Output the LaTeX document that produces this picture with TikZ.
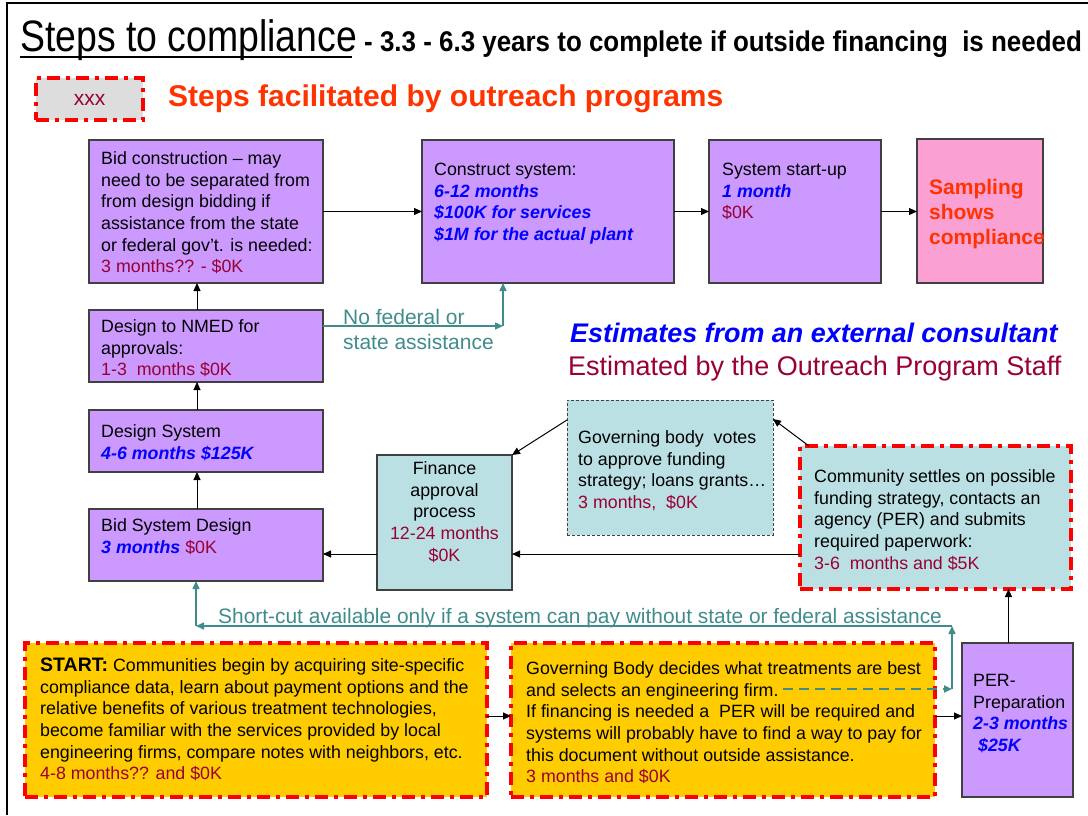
\documentclass[tikz,border=0pt]{standalone}
\usepackage{fontspec}
\setmainfont{Liberation Sans}
\newfontfamily\narrowfont[FakeStretch=0.85]{Liberation Sans}
\newfontfamily\subfont[FakeStretch=0.91]{Liberation Sans}
\usetikzlibrary{arrows.meta}
\definecolor{maroon}{RGB}{153,0,51}
\definecolor{bblue}{RGB}{0,0,255}
\definecolor{ored}{RGB}{255,51,0}
\definecolor{tealc}{RGB}{64,140,140}
\definecolor{purp}{RGB}{204,153,255}
\definecolor{pinkc}{RGB}{250,160,210}
\definecolor{lteal}{RGB}{187,224,228}
\definecolor{goldc}{RGB}{255,204,0}
\definecolor{lgray}{RGB}{221,221,221}
\definecolor{bord}{RGB}{64,64,64}
\newcommand\mr[1]{\textcolor{maroon}{#1}}
\newcommand\bb[1]{\textcolor{bblue}{\bfseries\itshape #1}}
\tikzset{
  box/.style={draw=bord, line width=1.2pt, inner sep=0pt, outer sep=0pt, anchor=north west},
  purplebox/.style={box, fill=purp},
  tealbox/.style={box, fill=lteal},
  outreach/.style={draw=red, line width=4pt, dash pattern=on 13pt off 6pt on 4pt off 6pt, inner sep=0pt, outer sep=0pt, anchor=north west},
  txt/.style={anchor=north west, inner sep=0pt, align=left, font=\fontsize{17.8}{21.7}\selectfont},
  arr/.style={-{Triangle[length=8pt,width=7pt]}, line width=1pt},
  tarr/.style={arr, draw=tealc, line width=1.5pt},
}
\begin{document}
\begin{tikzpicture}[x=1pt,y=-1pt]
\useasboundingbox (0,0) rectangle (1088,815);
% frame
\draw[line width=2.5pt] (7,815) -- (7,3) -- (1088,3);

% title
\node[anchor=base west, inner sep=0pt, font=\narrowfont\fontsize{44}{50}\selectfont] (title) at (20,51) {Steps to compliance};
\draw[line width=2.5pt] (title.base west) ++(0,6) -- ++(332,0);
\node[anchor=base west, inner sep=0pt, font=\subfont\bfseries\fontsize{28.5}{32}\selectfont] (subtitle) at (364,51) {- 3.3 - 6.3 years to complete if outside financing\ \ is needed};

% legend
\node[outreach, fill=lgray, minimum width=107pt, minimum height=42pt] (leg) at (36,78) {};
\node[inner sep=0pt, font=\fontsize{21}{24}\selectfont, text=maroon] (legt) at ([yshift=-1pt]leg.center) {xxx};
\node[anchor=base west, inner sep=0pt, font=\bfseries\fontsize{30}{34}\selectfont, text=ored] (legtxt) at (168,106) {Steps facilitated by outreach programs};

\node[anchor=base west, inner sep=0pt, font=\bfseries\itshape\fontsize{26.9}{30}\selectfont, text=bblue] (est1) at (570,342) {Estimates from an external consultant};
\node[anchor=base west, inner sep=0pt, font=\fontsize{27}{32}\selectfont, text=maroon] (est2) at (568,375) {Estimated by the Outreach Program Staff};

% top row
\node[purplebox, minimum width=234pt, minimum height=143pt] (bidc) at (89,140) {};
\node[txt] (bidct) at (101,149) {\strut Bid construction – may\\need to be separated from\\from design bidding if\\assistance from the state\\or federal gov’t. is needed:\\\mr{3 months?? - \$0K}};

\node[purplebox, minimum width=252pt, minimum height=143pt] (cons) at (422,140) {};
\node[txt] (const) at (434,160) {\strut Construct system:\\\bb{6-12 months}\\\bb{\$100K for services}\\\bb{\$1M for the actual plant}};

\node[purplebox, minimum width=172pt, minimum height=143pt] (sup) at (709,140) {};
\node[txt] (supt) at (722,160) {\strut System start-up\\\bb{1 month}\\\mr{\$0K}};

\node[box, fill=pinkc, minimum width=126pt, minimum height=144pt] (samp) at (917,139) {};
\node[txt, font=\bfseries\fontsize{21}{25}\selectfont, text=ored] (sampt) at (929,177) {\strut Sampling\\shows\\compliance};

% left column
\node[purplebox, minimum width=234pt, minimum height=72pt] (nmed) at (89,310) {};
\node[txt] (nmedt) at (101,317) {\strut Design to NMED for\\approvals:\\\mr{1-3\ \ months \$0K}};

\node[purplebox, minimum width=234pt, minimum height=62pt] (dsys) at (89,410) {};
\node[txt] (dsyst) at (101,422) {\strut Design System\\\bb{4-6 months \$125K}};

\node[purplebox, minimum width=234pt, minimum height=72pt] (bsd) at (89,509) {};
\node[txt] (bsdt) at (101,516) {\strut Bid System Design\\\bb{3 months} \mr{\$0K}};

% finance row
\node[tealbox, minimum width=135pt, minimum height=135pt] (fin) at (377,455) {};
\node[txt, anchor=north, align=center] (fint) at (444.5,459) {\strut Finance\\approval\\process\\\mr{12-24 months}\\\mr{\$0K}};

\node[box, fill=lteal, draw=bord, line width=1pt, dash pattern=on 3pt off 2pt, minimum width=206pt, minimum height=135pt] (govv) at (567,400) {};
\node[txt] (govvt) at (578,428) {\strut Governing body\ \ votes\\to approve funding\\strategy; loans grants…\\\mr{3 months,\ \ \$0K}};

\node[outreach, fill=lteal, minimum width=271pt, minimum height=143pt] (comm) at (800,446) {};
\node[txt] (commt) at (814,467) {\strut Community settles on possible\\funding strategy, contacts an\\agency (PER) and submits\\required paperwork:\\\mr{3-6\ \ months and \$5K}};

% bottom row
\node[outreach, fill=goldc, minimum width=462pt, minimum height=154pt] (start) at (25,643) {};
\node[txt] (startt) at (40,656) {\strut{\bfseries\fontsize{19.5}{21.7}\selectfont START:} Communities begin by acquiring site-specific\\compliance data, learn about payment options and the\\relative benefits of various treatment technologies,\\become familiar with the services provided by local\\engineering firms, compare notes with neighbors, etc.\\\mr{4-8 months?? and \$0K}};

\node[outreach, fill=goldc, minimum width=424pt, minimum height=154pt] (govd) at (511,643) {};
\node[txt] (govdt) at (526,659) {\strut Governing Body decides what treatments are best\\and selects an engineering firm.\\If financing is needed a\ \ PER will be required and\\systems will probably have to find a way to pay for\\this document without outside assistance.\\\mr{3 months and \$0K}};

\node[purplebox, minimum width=111pt, minimum height=154pt] (per) at (962,643) {};
\node[txt] (pert) at (973,671) {\strut PER-\\Preparation\\\bb{2-3 months}\\\bb{\ \$25K}};

% connectors top row
\draw[arr] (bidc.east) -- (cons.west);
\draw[arr] (cons.east) -- (sup.west);
\draw[arr] (sup.east) -- (samp.west |- sup.east);

% left column
\draw[arr] ([xshift=-9pt]nmed.north) -- ([xshift=-9pt]bidc.south);
\draw[arr] ([xshift=-9pt]dsys.north) -- ([xshift=-9pt]nmed.south);
\draw[arr] ([xshift=-9pt]bsd.north) -- ([xshift=-9pt]dsys.south);

% no federal
\coordinate (nc) at (503,326);
\draw[tarr] (nmed.east |- nc) -- (nc);
\draw[tarr] (nc) -- (nc |- cons.south);
\node[txt, font=\fontsize{21}{25}\selectfont, text=tealc] (nofed) at (343,307) {\strut No federal or\\state assistance};

% finance row
\coordinate (r1) at (0,554);
\draw[arr] (comm.west |- r1) -- (fin.east |- r1);
\draw[arr] (fin.west |- r1) -- (bsd.east |- r1);
\draw[arr] ([xshift=9pt]comm.north west) -- ([yshift=-19pt]govv.north east);
\draw[arr] ([yshift=-20pt]govv.north west) -- (fin.north east);
\draw[arr] ([xshift=-9pt]per.north) -- ([xshift=-9pt]per.north |- comm.south);

% bottom row
\coordinate (r2) at (0,716);
\draw[arr] (start.east |- r2) -- (govd.west |- r2);
\draw[arr] (govd.east |- r2) -- (per.west |- r2);

% short-cut
\coordinate (s1) at (783,689);
\coordinate (s2) at (952,689);
\coordinate (s3) at (952,626);
\coordinate (s4) at (196,626);
\draw[tarr, line width=2pt, dash pattern=on 10pt off 6pt] (s1) -- (s2);
\draw[tarr] (s2) -- (s3);
\draw[tarr] (s3) -- (s4);
\draw[tarr] (s4) -- (s4 |- bsd.south);
\node[anchor=base west, inner sep=0pt, font=\fontsize{20.9}{24}\selectfont, text=tealc] (short) at (218,623) {Short-cut available only if a system can pay without state or federal assistance};
\end{tikzpicture}
\end{document}
